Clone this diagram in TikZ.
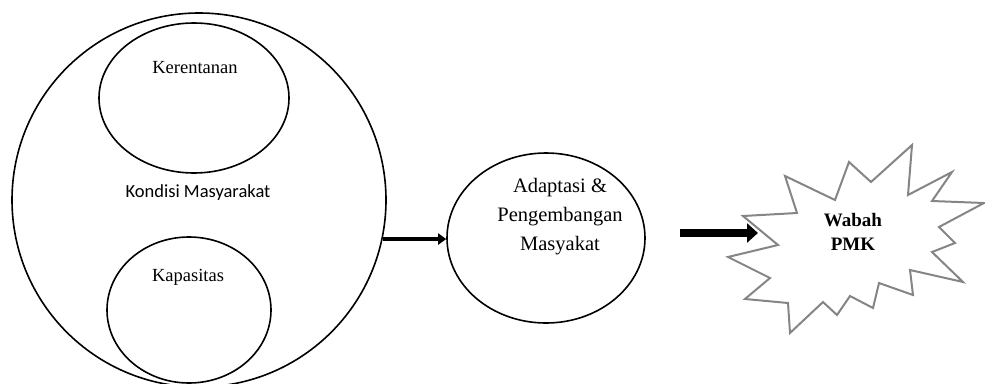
\documentclass[tikz,border=0pt]{standalone}
\usepackage{fontspec}
\setmainfont{Liberation Serif}
\newfontfamily\calibri{Carlito}
\usetikzlibrary{shapes.geometric,arrows.meta}
\begin{document}
\begin{tikzpicture}[x=1pt,y=-1pt,line width=1.6pt,
    ring/.style={ellipse,draw,inner sep=0pt},
    txt/.style={font=\fontsize{18.5}{22}\selectfont}]
  \useasboundingbox (0,0) rectangle (985,383);
  % circles
  \node [circle,draw,inner sep=0pt,minimum size=374pt] (kond) at (199,200) {};
  \node [ring,minimum width=190pt,minimum height=150pt] (ker) at (194,98) {};
  \node [ring,minimum width=164pt,minimum height=146pt] (kap) at (189,310) {};
  \node [ring,minimum width=198pt,minimum height=170pt] (adap) at (546,238) {};
  % labels
  \node [txt,anchor=base] (kert) at (195,73) {Kerentanan};
  \node [txt,anchor=base] (kapt) at (188,281) {Kapasitas};
  \node [txt,anchor=base,font=\calibri\fontsize{18.5}{22}\selectfont] (kondt) at (198,197) {Kondisi Masyarakat};
  \node [align=center,font=\fontsize{20.5}{29}\selectfont] (adapt) at (560,217)
    {Adaptasi \&\\Pengembangan\\Masyakat};
  \node [align=center,font=\bfseries\fontsize{19}{23.5}\selectfont] (wabah) at (853,232)
    {Wabah\\PMK};
  % starburst
  \draw [black!48,line width=2pt,line join=miter] (743,216) -- (778,245) -- (728,257)
    -- (770,278) -- (745,299) -- (788,303) -- (790,333) -- (823,302) -- (837,315)
    -- (850,296) -- (873,308) -- (879,283) -- (913,295) -- (910,270) -- (963,282)
    -- (932,252) -- (955,243) -- (939,227) -- (984,203) -- (932,201) -- (952,172)
    -- (908,195) -- (912,145) -- (871,182) -- (849,162) -- (835,200) -- (785,176)
    -- (797,213) -- cycle;
  \coordinate (a2) at (680,233);
  \coordinate (burst) at (758,233);
  % arrows
  \draw [-{Triangle[length=8pt,width=11pt]},line width=4pt] (kond.-12.7) -- (kond.-12.7 -| adap.west);
  \draw [-{Triangle[length=11pt,width=19pt]},line width=8pt] (a2) -- (burst);
\end{tikzpicture}
\end{document}
